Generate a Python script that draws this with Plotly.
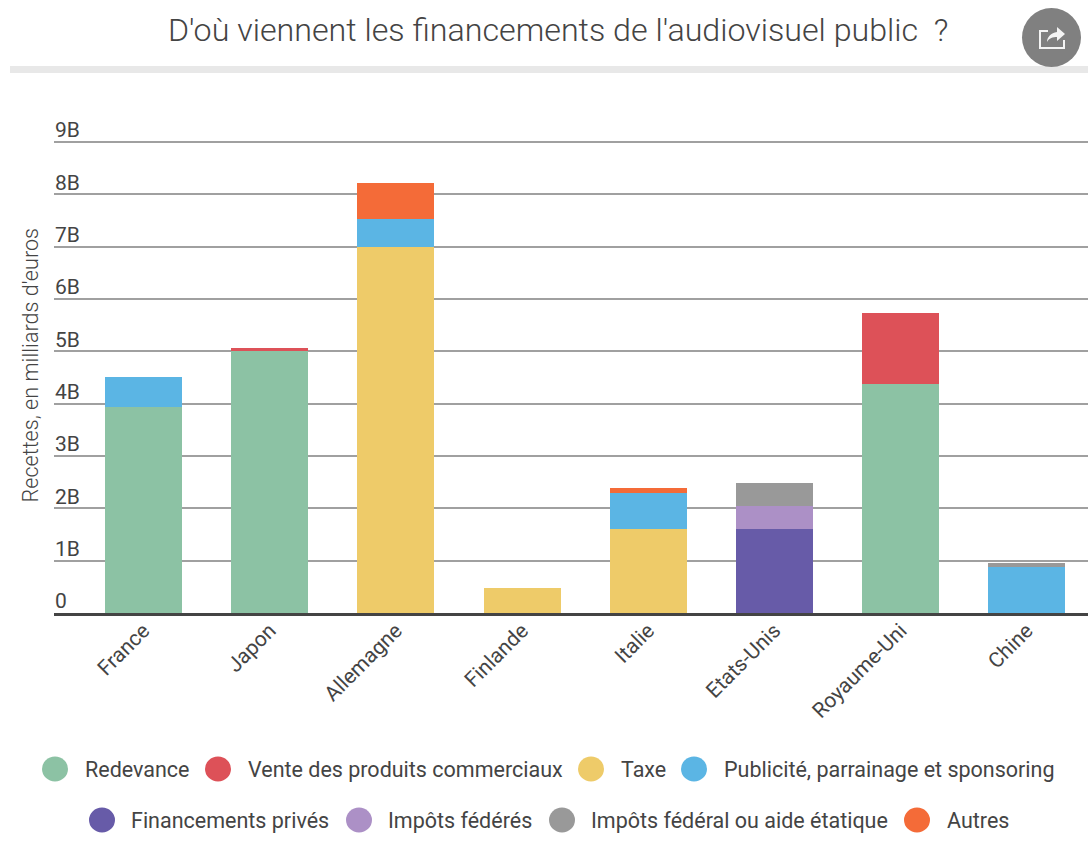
import plotly.graph_objects as go

categories = ["France", "Japon", "Allemagne", "Finlande", "Italie", "Etats-Unis", "Royaume-Uni", "Chine"]
redevance = [3.94, 5.0, 0, 0, 0, 0, 4.38, 0]
vente = [0, 0.06, 0, 0, 0, 0, 1.35, 0]
taxe = [0, 0, 7.0, 0.48, 1.6, 0, 0, 0]
publicite = [0.57, 0, 0.52, 0, 0.7, 0, 0, 0.87]
prives = [0, 0, 0, 0, 0, 1.6, 0, 0]
impots_federes = [0, 0, 0, 0, 0, 0.45, 0, 0]
aide_etatique = [0, 0, 0, 0, 0, 0.43, 0, 0.09]
autres = [0, 0, 0.69, 0, 0.08, 0, 0, 0]
tick_vals = [0, 1, 2, 3, 4, 5, 6, 7, 8, 9]
tick_text = ["0", "1B", "2B", "3B", "4B", "5B", "6B", "7B", "8B", "9B"]

series = [
    ("Redevance", redevance, "#8CC2A4"),
    ("Vente des produits commerciaux", vente, "#DD5158"),
    ("Taxe", taxe, "#EECB69"),
    ("Publicité, parrainage et sponsoring", publicite, "#5BB5E4"),
    ("Financements privés", prives, "#675BA8"),
    ("Impôts fédérés", impots_federes, "#AC90C6"),
    ("Impôts fédéral ou aide étatique", aide_etatique, "#999999"),
    ("Autres", autres, "#F46B38"),
]

FONT = "Roboto"
TEXT = "#444444"
L, T, B = 54, 141, 613
W, H = 1088, 847
def px(x): return (x - L) / (W - L)
def py(y): return (B - y) / (B - T)

fig = go.Figure()
for name, vals, col in series:
    fig.add_trace(go.Bar(name=name, x=categories, y=vals, marker=dict(color=col, line=dict(width=0)),
                         showlegend=False))

shapes = []
annotations = []
# legend
legend_layout = [(55, 769, 83), (218, 769, 246), (591, 769, 619), (694, 769, 722),
                 (102, 820, 129), (359, 820, 386), (562, 820, 589), (917, 820, 945)]
for (name, _, col), (cx, cy, tx) in zip(series, legend_layout):
    shapes.append(dict(type="circle", xref="paper", yref="paper", x0=px(cx - 13), x1=px(cx + 13),
                       y0=py(cy + 12.5), y1=py(cy - 12.5), fillcolor=col, line_width=0))
    annotations.append(dict(text=name, xref="paper", yref="paper", x=px(tx), y=py(cy), xanchor="left",
                            yanchor="middle", showarrow=False, font=dict(family=FONT, size=21.5, color=TEXT)))
# title
annotations.append(dict(text="D'où viennent les financements de l'audiovisuel public  ?", xref="paper", yref="paper",
                        x=px(558), y=py(30), xanchor="center", yanchor="middle", showarrow=False,
                        font=dict(family=FONT, size=32.2, color=TEXT, weight=300)))
# axis title
annotations.append(dict(text="Recettes, en milliards d'euros", xref="paper", yref="paper", x=px(30), y=py(365.5),
                        xanchor="center", yanchor="middle", textangle=-90, showarrow=False,
                        font=dict(family=FONT, size=21.6, color=TEXT, weight=300)))
# separator
shapes.append(dict(type="rect", xref="paper", yref="paper", x0=px(10), x1=px(1088), y0=py(73), y1=py(66),
                   fillcolor="#E8E8E8", line_width=0))
# share button
shapes.append(dict(type="circle", xref="paper", yref="paper", x0=px(1022), x1=px(1081), y0=py(67), y1=py(8),
                   fillcolor="#808080", line_width=0))
def p(x, y): return f"{px(x)},{py(y)}"
shapes.append(dict(type="path", xref="paper", yref="paper",
                   path=f"M{p(1048,31)} L{p(1040,31)} L{p(1040,48)} L{p(1064,48)} L{p(1064,40)}",
                   line=dict(color="#F4F4F4", width=2)))
shapes.append(dict(type="path", xref="paper", yref="paper",
                   path=f"M{p(1047,42)} C{p(1047,37)} {p(1051,33)} {p(1057,32)} L{p(1057,27)} L{p(1065,34)} L{p(1057,41)} L{p(1057,37)} C{p(1053,37)} {p(1049,38)} {p(1047,42)} Z",
                   fillcolor="#F4F4F4", line_width=0))

fig.update_layout(
    barmode="stack", bargap=0.39, width=W, height=H,
    margin=dict(l=L, r=0, t=T, b=H - B, pad=0, autoexpand=False),
    paper_bgcolor="white", plot_bgcolor="white",
    font=dict(family=FONT, color=TEXT, size=18),
    shapes=shapes, annotations=annotations,
    xaxis=dict(range=[-0.71, 7.485], showgrid=False, tickangle=-45, ticks="", showline=True, linewidth=3,
               linecolor="#444444", tickfont=dict(family=FONT, size=21, color=TEXT), ticklabelstandoff=-6,
               categoryorder="array", categoryarray=categories),
    yaxis=dict(range=[0, 9.02], tickvals=tick_vals, ticktext=tick_text, showgrid=True, gridcolor="#A0A0A0", gridwidth=1.5,
               zeroline=False, ticks="", showline=False, ticklabelposition="inside", ticklabeloverflow="allow",
               ticklabelshift=-12, ticklabelstandoff=-2, tickfont=dict(family=FONT, size=21, color=TEXT)),
)
fig.write_html("out.html", post_script="document.body.style.margin='0';", config=dict(displayModeBar=False))
